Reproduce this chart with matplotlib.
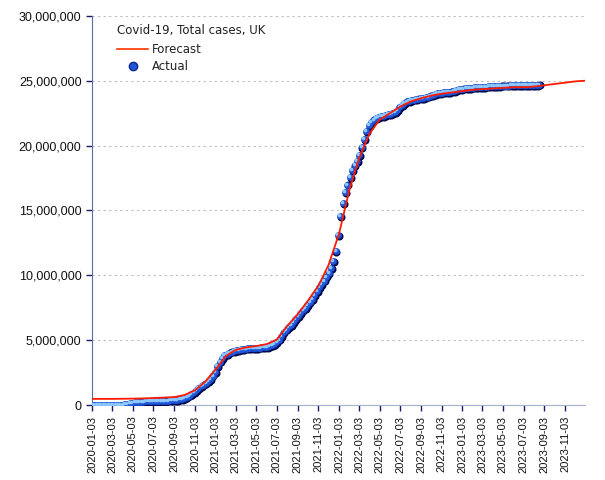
import matplotlib
matplotlib.use("Agg")
import matplotlib.pyplot as plt
import matplotlib.transforms as mtransforms
from matplotlib.ticker import FuncFormatter, MultipleLocator
from matplotlib.lines import Line2D
import pandas as pd
import numpy as np

# ---- data ----
actual_start = "2020-01-03"   # weekly observations
actual_millions = [
    # 2020
    0.0, 0.0, 0.0, 0.0, 0.0, 0.0, 0.0, 0.0, 0.0,
    0.0, 0.01, 0.01, 0.02,
    0.04, 0.07, 0.11, 0.14,
    0.18, 0.21, 0.24, 0.26, 0.27,
    0.28, 0.29, 0.30, 0.31,
    0.31, 0.32, 0.32, 0.33, 0.33,
    0.34, 0.35, 0.36, 0.37,
    0.38, 0.41, 0.44, 0.48,
    0.54, 0.62, 0.73, 0.86, 1.0,
    1.15, 1.30, 1.45, 1.58,
    1.70, 1.83, 2.02, 2.27,
    # 2021
    2.55, 3.0, 3.35, 3.65, 3.85,
    3.95, 4.05, 4.12, 4.18,
    4.22, 4.26, 4.30, 4.33,
    4.36, 4.38, 4.39, 4.40, 4.41,
    4.42, 4.43, 4.45, 4.47,
    4.50, 4.55, 4.62, 4.72,
    4.85, 5.05, 5.35, 5.62, 5.82,
    6.0, 6.2, 6.42, 6.65,
    6.88, 7.1, 7.3, 7.5,
    7.7, 7.93, 8.2, 8.5, 8.8,
    9.1, 9.35, 9.6, 9.9,
    10.2, 10.55, 11.1, 11.9, 13.1,
    # 2022
    14.6, 15.6, 16.4, 17.0,
    17.6, 18.1, 18.5, 18.8,
    19.3, 19.9, 20.5, 21.1,
    21.6, 21.8, 22.0, 22.1, 22.2,
    22.25, 22.3, 22.35, 22.4,
    22.45, 22.5, 22.6, 22.75,
    22.95, 23.15, 23.3, 23.4, 23.45,
    23.5, 23.55, 23.6, 23.62,
    23.65, 23.68, 23.72, 23.78, 23.85,
    23.92, 23.98, 24.02, 24.05,
    24.08, 24.1, 24.12, 24.14,
    24.17, 24.22, 24.28, 24.33, 24.38,
    # 2023
    24.4, 24.42, 24.44, 24.46,
    24.47, 24.48, 24.49, 24.5,
    24.51, 24.53, 24.55, 24.57, 24.58,
    24.59, 24.6, 24.61, 24.62,
    24.62, 24.63, 24.63, 24.64,
    24.64, 24.65, 24.65, 24.66, 24.66,
    24.67, 24.67, 24.68, 24.68,
    24.69, 24.69, 24.7,
]

forecast_dates = [
    "2020-01-03", "2020-02-03", "2020-03-03", "2020-04-03", "2020-05-03", "2020-06-03",
    "2020-07-03", "2020-08-03", "2020-09-03", "2020-10-03", "2020-11-03", "2020-12-03",
    "2021-01-03", "2021-02-03", "2021-03-03", "2021-04-03", "2021-05-03", "2021-06-03",
    "2021-07-03", "2021-08-03", "2021-09-03", "2021-10-03", "2021-11-03", "2021-12-03",
    "2022-01-03", "2022-02-03", "2022-03-03", "2022-04-03", "2022-05-03", "2022-06-03",
    "2022-07-03", "2022-08-03", "2022-09-03", "2022-10-03", "2022-11-03", "2022-12-03",
    "2023-01-03", "2023-02-03", "2023-03-03", "2023-04-03", "2023-05-03", "2023-06-03",
    "2023-07-03", "2023-08-03", "2023-09-03", "2023-10-03", "2023-11-03", "2023-12-03",
    "2024-01-01",
]
forecast_millions = [
    0.48, 0.48, 0.48, 0.49, 0.50, 0.52,
    0.55, 0.58, 0.62, 0.78, 1.15, 1.80,
    2.75, 3.80, 4.25, 4.45, 4.55, 4.70,
    5.05, 6.10, 7.00, 8.05, 9.20, 10.8,
    13.2, 16.6, 19.0, 20.9, 22.0, 22.5,
    23.0, 23.4, 23.65, 23.85, 24.0, 24.1,
    24.2, 24.3, 24.35, 24.4, 24.45, 24.5,
    24.5, 24.55, 24.65, 24.75, 24.85, 24.95,
    25.0,
]

xtick_labels = [
    "2020-01-03", "2020-03-03", "2020-05-03", "2020-07-03", "2020-09-03", "2020-11-03",
    "2021-01-03", "2021-03-03", "2021-05-03", "2021-07-03", "2021-09-03", "2021-11-03",
    "2022-01-03", "2022-03-03", "2022-05-03", "2022-07-03", "2022-09-03", "2022-11-03",
    "2023-01-03", "2023-03-03", "2023-05-03", "2023-07-03", "2023-09-03", "2023-11-03",
]

title = "Covid-19, Total cases, UK"
series_labels = ["Forecast", "Actual"]

# ---- build ----
actual_dates = pd.date_range(actual_start, periods=len(actual_millions), freq="7D")
actual_vals = np.array(actual_millions) * 1e6
fc_dates = pd.to_datetime(forecast_dates)
fc_vals = np.array(forecast_millions) * 1e6

fig = plt.figure(figsize=(6.05, 4.8), dpi=100)
ax = fig.add_axes([0.152, 0.156, 0.815, 0.811])

ax.set_xlim(pd.Timestamp("2020-01-03"), pd.Timestamp("2024-01-01"))
ax.set_ylim(0, 30e6)

ax.yaxis.set_major_locator(MultipleLocator(5e6))
ax.yaxis.set_major_formatter(FuncFormatter(lambda v, p: f"{int(round(v)):,}"))
ax.grid(axis="y", color="#bdbdbd", linestyle=(0, (2, 3)), linewidth=0.8)
ax.set_axisbelow(True)

ax.set_xticks(pd.to_datetime(xtick_labels))
ax.set_xticklabels(xtick_labels, rotation=90, fontsize=8, family="Liberation Sans")
for t in ax.get_yticklabels():
    t.set_family("Liberation Sans")
ax.tick_params(axis="y", labelsize=9)

for s in ["top", "right"]:
    ax.spines[s].set_visible(False)
ax.spines["left"].set_color("#5a6aa8")
ax.spines["bottom"].set_color("#a8b0d0")
ax.tick_params(axis="both", color="#1a1a6a", length=4, width=1, labelcolor="#111111")

# actual: shaded spheres via layered, offset markers
dark_off = mtransforms.offset_copy(ax.transData, fig=fig, x=0.6, y=-0.6, units="points")
hi_off = mtransforms.offset_copy(ax.transData, fig=fig, x=-0.7, y=0.7, units="points")
ax.plot(actual_dates, actual_vals, "o", ms=5.8, color="#000a50", mec="none",
        transform=dark_off, zorder=3)
ax.plot(actual_dates, actual_vals, "o", ms=4.8, color="#1f55d8", mec="none", zorder=4)
ax.plot(actual_dates, actual_vals, "o", ms=2.6, color="#8cc8ff", mec="none",
        transform=hi_off, zorder=5)

# forecast
ax.plot(fc_dates, fc_vals, "-", color="#ff1a00", lw=1.3, zorder=6)

handles = [
    Line2D([0], [0], color="#ff3300", lw=1.2),
    Line2D([0], [0], marker="o", ls="none", ms=6, color="#1f55d8", mec="#0a2a90"),
]
leg = ax.legend(handles, series_labels, title=title, loc="upper left",
                bbox_to_anchor=(0.035, 1.0), frameon=False, fontsize=8.5,
                title_fontsize=8.5, handlelength=2.6, handletextpad=0.35,
                labelspacing=0.4, borderpad=0.2)
leg._legend_box.align = "left"
leg._legend_box.sep = 4
for t in leg.get_texts():
    t.set_color("#222222")
leg.get_title().set_color("#222222")

fig.savefig("out.png", dpi=100)
